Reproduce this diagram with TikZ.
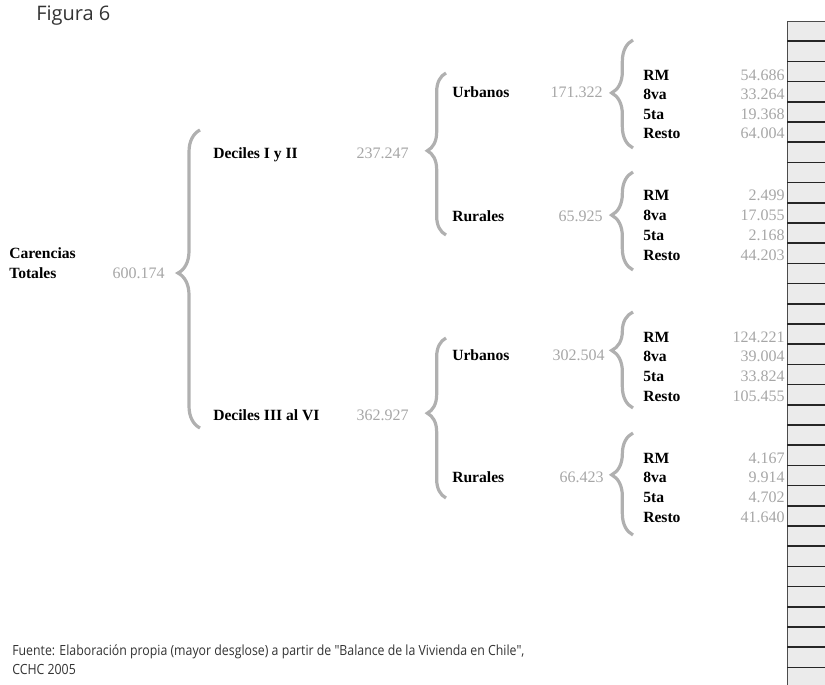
\documentclass[tikz,border=0pt]{standalone}
\usepackage{fontspec}
\setmainfont{Liberation Serif}
\newfontfamily\notefont[FakeStretch=0.88]{Open Sans}
\newfontfamily\titlefont{Open Sans}
\usepackage{tikz}
\usetikzlibrary{positioning}
\usetikzlibrary{decorations.pathreplacing}

\begin{document}
\begin{tikzpicture}[x=0.75pt, y=-0.75pt,
        lblnode/.style={anchor=base west, inner sep=0pt, font=\fontsize{11.7}{13}\selectfont\bfseries},
        numnode/.style={anchor=base east, inner sep=0pt, text=gray!70, font=\fontsize{12}{14}\selectfont},
        notenode/.style={anchor=base west, inner sep=0pt, text=black!80, font=\notefont\fontsize{10.5}{13}\selectfont},
        curly/.style={decorate, draw=gray!62, line width=2.4pt},
        ]
        \useasboundingbox (0,0) rectangle (825,685);

        %Strip on the right
        \fill[gray!16] (787,21) rectangle (825,685);
        \draw[gray!60!black, line width=0.6pt] (787,685) -- (787,21) -- (825,21);
        \foreach \k in {1,...,33}
            \draw[black!85, line width=1.1pt] (787,{21+20.2*\k}) -- (825,{21+20.2*\k});

        %Nodes
        \node[notenode, font=\titlefont\fontsize{15}{17}\selectfont] (fig) at (36,21) {Figura 6};

        \node[lblnode] (car) at (9,258) {Carencias};
        \node[lblnode] (tot) at (9,278) {Totales};
        \node[numnode] (ntot) at (165,278) {600.174};

        \node[lblnode] (d12)  at (213,158) {Deciles I y II};
        \node[numnode] (nd12) at (409,158) {237.247};
        \node[lblnode] (d36)  at (213,420) {Deciles III al VI};
        \node[numnode] (nd36) at (409,420) {362.927};

        \node[lblnode] (u1)  at (452,98)  {Urbanos};
        \node[numnode] (nu1) at (603,98)  {171.322};
        \node[lblnode] (r1)  at (452,221) {Rurales};
        \node[numnode] (nr1) at (603,221) {65.925};
        \node[lblnode] (u2)  at (452,360) {Urbanos};
        \node[numnode] (nu2) at (605,360) {302.504};
        \node[lblnode] (r2)  at (452,482) {Rurales};
        \node[numnode] (nr2) at (604,482) {66.423};

        \node[lblnode] (u1rm) at (643,80)  {RM};
        \node[lblnode] (u1oc) at (643,99)  {8va};
        \node[lblnode] (u1qu) at (643,119) {5ta};
        \node[lblnode] (u1re) at (643,138) {Resto};
        \node[numnode] (nu1rm) at (785,80)  {54.686};
        \node[numnode] (nu1oc) at (785,99)  {33.264};
        \node[numnode] (nu1qu) at (785,119) {19.368};
        \node[numnode] (nu1re) at (785,138) {64.004};

        \node[lblnode] (r1rm) at (643,200) {RM};
        \node[lblnode] (r1oc) at (643,220) {8va};
        \node[lblnode] (r1qu) at (643,240) {5ta};
        \node[lblnode] (r1re) at (643,260) {Resto};
        \node[numnode] (nr1rm) at (785,200) {2.499};
        \node[numnode] (nr1oc) at (785,220) {17.055};
        \node[numnode] (nr1qu) at (785,240) {2.168};
        \node[numnode] (nr1re) at (785,260) {44.203};

        \node[lblnode] (u2rm) at (643,342) {RM};
        \node[lblnode] (u2oc) at (643,361) {8va};
        \node[lblnode] (u2qu) at (643,381) {5ta};
        \node[lblnode] (u2re) at (643,401) {Resto};
        \node[numnode] (nu2rm) at (785,342) {124.221};
        \node[numnode] (nu2oc) at (785,361) {39.004};
        \node[numnode] (nu2qu) at (785,381) {33.824};
        \node[numnode] (nu2re) at (785,401) {105.455};

        \node[lblnode] (r2rm) at (643,463) {RM};
        \node[lblnode] (r2oc) at (643,482) {8va};
        \node[lblnode] (r2qu) at (643,502) {5ta};
        \node[lblnode] (r2re) at (643,522) {Resto};
        \node[numnode] (nr2rm) at (785,463) {4.167};
        \node[numnode] (nr2oc) at (785,482) {9.914};
        \node[numnode] (nr2qu) at (785,502) {4.702};
        \node[numnode] (nr2re) at (785,522) {41.640};

        \node[notenode] (src1) at (12,655) {Fuente: Elaboración propia (mayor desglose) a partir de "Balance de la Vivienda en Chile",};
        \node[notenode] (src2) at (12,674) {CCHC 2005};

        %Brace ends
        \coordinate (b0bot) at (200,428);  \coordinate (b0top) at (200,130);
        \coordinate (b1bot) at (446,235);  \coordinate (b1top) at (446,73);
        \coordinate (b2bot) at (446,498);  \coordinate (b2top) at (446,338);
        \coordinate (b3bot) at (633,148);  \coordinate (b3top) at (633,40);
        \coordinate (b4bot) at (633,270);  \coordinate (b4top) at (633,172);
        \coordinate (b5bot) at (633,408);  \coordinate (b5top) at (633,312);
        \coordinate (b6bot) at (633,535);  \coordinate (b6top) at (633,433);

        %Braces
        \draw[curly, decoration={brace, amplitude=16.5pt, aspect=0.52}] (b0bot) -- (b0top);
        \draw[curly, decoration={brace, amplitude=14pt, aspect=0.52}]   (b1bot) -- (b1top);
        \draw[curly, decoration={brace, amplitude=14pt, aspect=0.53}]   (b2bot) -- (b2top);
        \draw[curly, decoration={brace, amplitude=16pt, aspect=0.51}]   (b3bot) -- (b3top);
        \draw[curly, decoration={brace, amplitude=16pt, aspect=0.56}]   (b4bot) -- (b4top);
        \draw[curly, decoration={brace, amplitude=16pt, aspect=0.60}]   (b5bot) -- (b5top);
        \draw[curly, decoration={brace, amplitude=16pt, aspect=0.59}]   (b6bot) -- (b6top);
    \end{tikzpicture}
\end{document}
